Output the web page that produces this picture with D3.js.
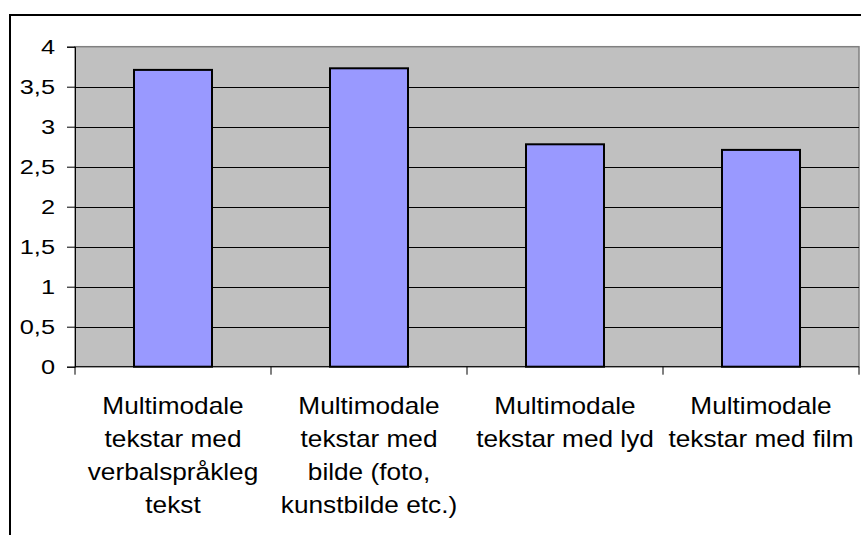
<!DOCTYPE html>
<html><head><meta charset="utf-8">
<script src="https://cdn.jsdelivr.net/npm/d3@7"></script>
<style>body{margin:0;background:#fff;}svg{display:block;font-family:Arial,"Liberation Sans",sans-serif;}</style>
</head><body>
<svg id="c" width="861" height="535"></svg>
<script>
const categories = [
  ["Multimodale","tekstar med","verbalspråkleg","tekst"],
  ["Multimodale","tekstar med","bilde (foto,","kunstbilde etc.)"],
  ["Multimodale","tekstar med lyd"],
  ["Multimodale","tekstar med film"]
];
const values = [3.71, 3.73, 2.78, 2.71];
const yTicks = [0, 0.5, 1, 1.5, 2, 2.5, 3, 3.5, 4];
const yTickLabels = ["0","0,5","1","1,5","2","2,5","3","3,5","4"];

const svg = d3.select("#c");
const plot = {left:75, right:859, top:46.7, bottom:366.7};

// chart border
svg.append("rect").attr("x",10).attr("y",15).attr("width",880).attr("height",560)
  .attr("fill","#fff").attr("stroke","#000").attr("stroke-width",2);

const x = d3.scaleBand().domain(d3.range(categories.length))
  .range([plot.left, plot.right]).paddingInner(0.6).paddingOuter(0.3);
const xOuter = d3.scaleBand().domain(d3.range(categories.length))
  .range([plot.left, plot.right]).padding(0);
const y = d3.scaleLinear().domain([0,4]).range([plot.bottom, plot.top]);

// plot area
svg.append("rect").attr("x",plot.left).attr("y",plot.top)
  .attr("width",plot.right-plot.left).attr("height",plot.bottom-plot.top)
  .attr("fill","#C0C0C0").attr("stroke","#808080").attr("stroke-width",1.5);

// gridlines
svg.append("g").selectAll("line").data(yTicks.filter(d=>d>0&&d<4)).join("line")
  .attr("x1",plot.left).attr("x2",plot.right)
  .attr("y1",d=>Math.round(y(d))+0.5).attr("y2",d=>Math.round(y(d))+0.5)
  .attr("stroke","#000").attr("stroke-width",1);

// bars
const bw = 78;
svg.append("g").selectAll("rect").data(values).join("rect")
  .attr("x",(d,i)=>xOuter(i)+xOuter.bandwidth()/2-bw/2)
  .attr("width",bw)
  .attr("y",d=>y(d))
  .attr("height",d=>y(0)-y(d))
  .attr("fill","#9999FF").attr("stroke","#000").attr("stroke-width",2);

// y axis
const yAxis = d3.axisLeft(y).tickValues(yTicks).tickSize(8).tickPadding(12)
  .tickFormat((d,i)=>yTickLabels[i]);
const ya = svg.append("g").attr("transform",`translate(${plot.left},0)`).call(yAxis);
ya.select(".domain").attr("stroke","#000").attr("stroke-width",1);
ya.selectAll(".tick line").attr("stroke","#000");
ya.selectAll(".tick text").attr("font-size",19.5).attr("fill","#000")
  .attr("font-family","Arial, 'Liberation Sans', sans-serif")
  .attr("x",0).attr("dy","0.36em")
  .attr("transform",`translate(-20,0) scale(1.3,1)`);

// x axis
const xb = d3.range(categories.length+1).map(i=>plot.left + i*xOuter.step());
svg.append("line").attr("x1",plot.left).attr("x2",plot.right)
  .attr("y1",plot.bottom).attr("y2",plot.bottom).attr("stroke","#000");
svg.append("g").selectAll("line").data(xb).join("line")
  .attr("x1",d=>d).attr("x2",d=>d).attr("y1",plot.bottom).attr("y2",plot.bottom+8)
  .attr("stroke","#000");

// category labels
const lab = svg.append("g").selectAll("g").data(categories).join("g")
  .attr("transform",(d,i)=>`translate(${xOuter(i)+xOuter.bandwidth()/2},414) scale(1.14,1)`);
lab.each(function(lines){
  const t = d3.select(this).append("text").attr("text-anchor","middle")
    .attr("font-size",23).attr("fill","#000");
  lines.forEach((l,j)=>t.append("tspan").attr("x",0).attr("y",j*33).text(l));
});
</script>
</body></html>
